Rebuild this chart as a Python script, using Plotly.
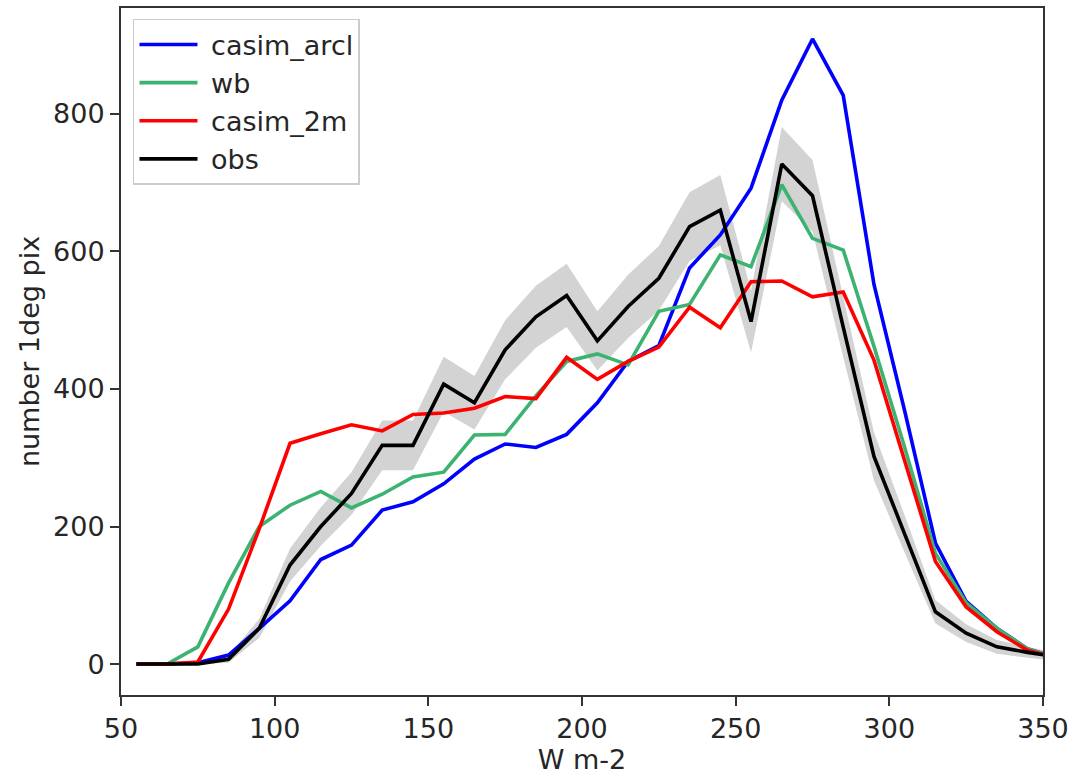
import plotly.graph_objects as go

# Bin centres (W m-2)
flux = [55, 65, 75, 85, 95, 105, 115, 125, 135, 145, 155, 165, 175, 185, 195,
        205, 215, 225, 235, 245, 255, 265, 275, 285, 295, 305, 315, 325, 335, 345, 355]

casim_arcl = [0, 0, 2, 13, 52, 92, 152, 173, 224, 236, 262, 298, 320, 315, 334,
              380, 440, 463, 576, 624, 692, 820, 909, 827, 552, 368, 176, 91, 52, 22, 8]
wb = [0, 0, 25, 118, 200, 231, 251, 227, 247, 272, 279, 333, 334, 390, 440,
      451, 435, 513, 523, 595, 578, 697, 619, 602, 462, 315, 161, 89, 52, 22, 8]
casim_2m = [0, 0, 3, 80, 197, 321, 335, 348, 339, 363, 365, 372, 389, 386, 446,
            414, 440, 461, 519, 489, 556, 557, 534, 541, 442, 296, 149, 83, 47, 20, 8]
obs = [0, 0, 0, 7, 52, 144, 200, 248, 318, 318, 407, 380, 457, 505, 536,
       470, 520, 561, 636, 660, 498, 727, 681, 490, 302, 189, 76, 45, 25, 17, 10]
# half-width of the observational uncertainty band
obs_err = [0, 0, 0, 5, 14, 24, 28, 31, 36, 36, 40, 39, 43, 45, 46,
           43, 46, 47, 50, 51, 45, 54, 52, 44, 35, 27, 17, 13, 10, 8, 6]

x_ticks = [50, 100, 150, 200, 250, 300, 350]
y_ticks = [0, 200, 400, 600, 800]

obs_lo = [v - e for v, e in zip(obs, obs_err)]
obs_hi = [v + e for v, e in zip(obs, obs_err)]

FONT = "DejaVu Sans"
FS = 27
TXT = "#262626"
AX = "#333333"

fig = go.Figure()

# shaded uncertainty band around obs
fig.add_trace(go.Scatter(x=flux, y=obs_lo, mode="lines", line=dict(width=0),
                         showlegend=False, hoverinfo="skip"))
fig.add_trace(go.Scatter(x=flux, y=obs_hi, mode="lines", line=dict(width=0),
                         fill="tonexty", fillcolor="#d3d3d3",
                         showlegend=False, hoverinfo="skip"))

series = [
    ("casim_arcl", casim_arcl, "#0000ff"),
    ("wb", wb, "#3cb371"),
    ("casim_2m", casim_2m, "#ff0000"),
    ("obs", obs, "#000000"),
]
for name, vals, col in series:
    fig.add_trace(go.Scatter(x=flux, y=vals, mode="lines", name="\u00a0" + name,
                             line=dict(color=col, width=3.6)))

fig.update_layout(
    width=1072, height=775,
    margin=dict(l=121, r=29, t=8, b=80, autoexpand=False),
    paper_bgcolor="white", plot_bgcolor="white",
    font=dict(family=FONT, size=FS, color=TXT),
    legend=dict(
        x=0.013, y=0.984, xanchor="left", yanchor="top",
        traceorder="normal",
        bgcolor="rgba(255,255,255,0.85)", bordercolor="#cccccc", borderwidth=1.5,
        font=dict(family=FONT, size=FS, color=TXT),
        itemwidth=58, tracegroupgap=0,
    ),
    showlegend=True,
)

fig.update_xaxes(
    range=[50, 350], tickvals=x_ticks, ticktext=[str(v) for v in x_ticks],
    showgrid=False, zeroline=False, automargin=False,
    showline=True, linecolor=AX, linewidth=2, mirror=True,
    ticks="outside", ticklen=9, tickwidth=2, tickcolor=AX,
    tickfont=dict(family=FONT, size=FS, color=TXT),
    title=dict(text="W m-2", font=dict(family=FONT, size=FS, color=TXT), standoff=12),
)
fig.update_yaxes(
    range=[-45, 954], tickvals=y_ticks, ticktext=[str(v) for v in y_ticks],
    showgrid=False, zeroline=False, automargin=False,
    showline=True, linecolor=AX, linewidth=2, mirror=True,
    ticks="outside", ticklen=9, tickwidth=2, tickcolor=AX,
    tickfont=dict(family=FONT, size=FS, color=TXT),
    title=dict(text="number 1deg pix", font=dict(family=FONT, size=FS, color=TXT), standoff=6),
)

fig.write_html("out.html")
